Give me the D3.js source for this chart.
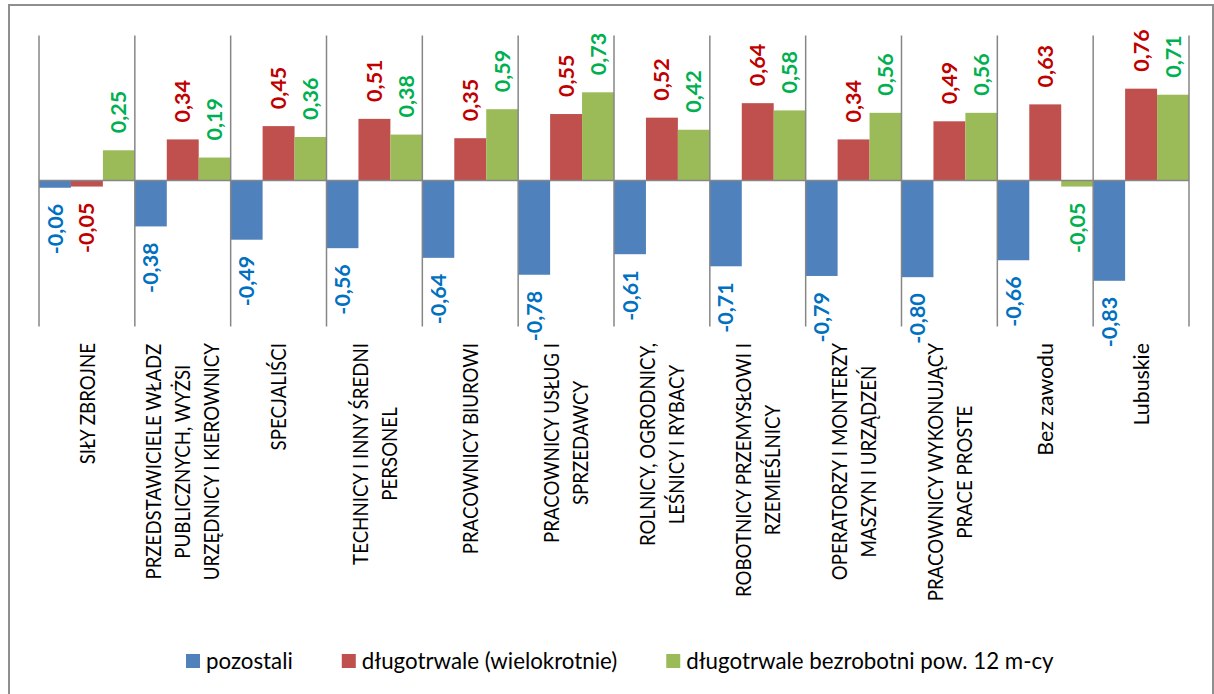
<!DOCTYPE html>
<html lang="pl">
<head>
  <meta charset="utf-8">
  <title>Bezrobotni wg grup zawodów</title>
  <script src="https://d3js.org/d3.v7.min.js"></script>
  <style>
    body { margin: 0; background: #fff; }
    svg { display: block; }
    .cat { font-family: Lato, "Open Sans", sans-serif; font-size: 22px; fill: #000; }
    .val { font-family: Lato, "Open Sans", sans-serif; font-size: 21.5px; font-weight: bold; }
    .leg { font-family: Lato, "Open Sans", sans-serif; font-size: 22.3px; fill: #000; }
  </style>
</head>
<body>
<div id="chart"></div>
<script>
  // categories (line breaks as in the original)
  const categories = [
    "SIŁY ZBROJNE",
    "PRZEDSTAWICIELE WŁADZ\nPUBLICZNYCH, WYŻSI\nURZĘDNICY I KIEROWNICY",
    "SPECJALIŚCI",
    "TECHNICY I INNY ŚREDNI\nPERSONEL",
    "PRACOWNICY BIUROWI",
    "PRACOWNICY USŁUG I\nSPRZEDAWCY",
    "ROLNICY, OGRODNICY,\nLEŚNICY I RYBACY",
    "ROBOTNICY PRZEMYSŁOWI I\nRZEMIEŚLNICY",
    "OPERATORZY I MONTERZY\nMASZYN I URZĄDZEŃ",
    "PRACOWNICY WYKONUJĄCY\nPRACE PROSTE",
    "Bez zawodu",
    "Lubuskie"
  ];
  const seriesNames = ["pozostali", "długotrwale (wielokrotnie)", "długotrwale bezrobotni pow. 12 m-cy"];
  const pozostali   = [-0.06, -0.38, -0.49, -0.56, -0.64, -0.78, -0.61, -0.71, -0.79, -0.80, -0.66, -0.83];
  const wielokrotni = [-0.05,  0.34,  0.45,  0.51,  0.35,  0.55,  0.52,  0.64,  0.34,  0.49,  0.63,  0.76];
  const pow12       = [ 0.25,  0.19,  0.36,  0.38,  0.59,  0.73,  0.42,  0.58,  0.56,  0.56, -0.05,  0.71];
  const barColors   = ["#4F81BD", "#C0504D", "#9BBB59"];
  const labelColors = ["#0070C0", "#C00000", "#00B050"];

  const width = 1214, height = 694;
  const series = [pozostali, wielokrotni, pow12];

  const svg = d3.select("#chart").append("svg")
    .attr("width", width)
    .attr("height", height);

  // outer frame (bottom edge falls outside the picture)
  svg.append("rect")
    .attr("x", 9).attr("y", 5)
    .attr("width", 1204).attr("height", 700)
    .attr("fill", "none")
    .attr("stroke", "#8f8f8f")
    .attr("stroke-width", 2);

  const x = d3.scaleBand().domain(d3.range(categories.length)).range([39, 1189]).padding(0);
  const xs = d3.scaleBand().domain(d3.range(series.length)).range([0, x.bandwidth()]).padding(0);
  const y = d3.scaleLinear().domain([-1.2, 1.2]).range([325.5, 35.5]);

  const pl = d3.formatLocale({decimal: ",", thousands: " ", grouping: [3], currency: ["", " zł"], minus: "-"});
  const fmt = pl.format(".2f");

  // bars
  series.forEach((vals, s) => {
    svg.append("g").selectAll("rect")
      .data(vals)
      .join("rect")
      .attr("x", (d, i) => x(i) + xs(s))
      .attr("width", xs.bandwidth())
      .attr("y", d => y(Math.max(0, d)))
      .attr("height", d => Math.abs(y(d) - y(0)))
      .attr("fill", barColors[s]);
  });

  // category separators (vertical lines)
  svg.append("g").selectAll("line")
    .data(d3.range(categories.length + 1))
    .join("line")
    .attr("x1", i => i < categories.length ? x(i) : x(i - 1) + x.bandwidth())
    .attr("x2", i => i < categories.length ? x(i) : x(i - 1) + x.bandwidth())
    .attr("y1", y(1.2))
    .attr("y2", y(-1.2) + 1)
    .attr("stroke", "#868686")
    .attr("stroke-width", 1.5);

  // zero axis
  svg.append("line")
    .attr("x1", 39).attr("x2", 1189)
    .attr("y1", y(0)).attr("y2", y(0))
    .attr("stroke", "#868686")
    .attr("stroke-width", 1.5);

  // value labels, rotated
  series.forEach((vals, s) => {
    svg.append("g").selectAll("text")
      .data(vals)
      .join("text")
      .attr("class", "val")
      .attr("fill", labelColors[s])
      .attr("text-anchor", d => d >= 0 ? "start" : "end")
      .attr("dy", "0.35em")
      .attr("transform", (d, i) => {
        const cx = x(i) + xs(s) + xs.bandwidth() / 2;
        const cy = d >= 0 ? y(d) - 17 : y(d) + 16;
        return `translate(${cx},${cy}) rotate(-90)`;
      })
      .text(d => fmt(d));
  });

  // category labels, rotated, top aligned, lines centred
  // Lato capitals run wider than the original face, so squeeze them a bit
  const lineStep = 29;
  categories.forEach((c, i) => {
    const lines = c.split("\n");
    const squeeze = c === c.toUpperCase() ? 0.85 : 0.97;
    const g = svg.append("g");
    const texts = lines.map(t => g.append("text")
      .attr("class", "cat")
      .attr("text-anchor", "middle")
      .attr("dy", "0.35em")
      .text(t));
    const maxLen = d3.max(texts, t => t.node().getComputedTextLength()) * squeeze;
    const cx = x(i) + x.bandwidth() / 2;
    texts.forEach((t, k) => {
      const lx = cx + (k - (lines.length - 1) / 2) * lineStep;
      t.attr("transform", `translate(${lx},${343 + maxLen / 2}) rotate(-90) scale(${squeeze},1)`);
    });
  });

  // legend
  const legend = svg.append("g");
  let lx = 186;
  seriesNames.forEach((name, s) => {
    legend.append("rect")
      .attr("x", lx).attr("y", 654)
      .attr("width", 14).attr("height", 14)
      .attr("fill", barColors[s]);
    const t = legend.append("text")
      .attr("class", "leg")
      .attr("x", lx + 20)
      .attr("y", 661)
      .attr("dy", "0.35em")
      .text(name);
    lx += 20 + t.node().getComputedTextLength() + 49;
  });
</script>
</body>
</html>
